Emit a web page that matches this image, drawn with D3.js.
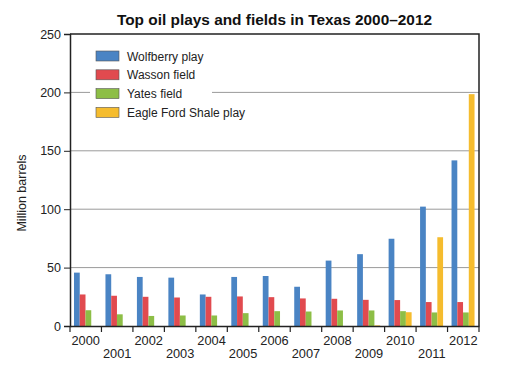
<!DOCTYPE html>
<html>
<head>
  <title>Texas oil</title>
  <script src="https://d3js.org/d3.v7.min.js"></script>
  <style>
    body { margin: 0; background: #fff; }
    text { font-family: "Liberation Sans", Arial, sans-serif; fill: #222; }
  </style>
</head>
<body>
<script type="text/javascript">
  var years = ["2000","2001","2002","2003","2004","2005","2006","2007","2008","2009","2010","2011","2012"];
  var seriesNames = ["Wolfberry play", "Wasson field", "Yates field", "Eagle Ford Shale play"];
  var wolfberry = [45.7, 44.3, 42, 41.4, 27, 42, 42.8, 33.6, 56, 61.5, 74.7, 102.2, 141.8];
  var wasson    = [27, 25.9, 25, 24.4, 25, 25.3, 24.7, 23.6, 23.3, 22.4, 22.2, 20.5, 20.5];
  var yates     = [13.5, 10, 8.6, 9, 9, 11, 12.7, 12.4, 13.3, 13.3, 12.7, 11.6, 11.6];
  var eagleFord = [null, null, null, null, null, null, null, null, null, 0.5, 11.8, 76, 198.5];
  var yTicks = [0, 50, 100, 150, 200, 250];
  var colors = ["#4a84c4", "#e14a4f", "#8dbe46", "#f5bc2e"];

  var w = 514;
  var h = 374;
  var mLeft = 70, mRight = 479, mTop = 34, mBottom = 326;

  var svg = d3.select("body").append("svg")
    .attr("width", w)
    .attr("height", h);

  var allSeries = [wolfberry, wasson, yates, eagleFord];
  var rows = [];
  allSeries.forEach(function(vals, s){
    vals.forEach(function(v, i){
      if (v !== null) rows.push({year: years[i], series: seriesNames[s], value: v, s: s});
    });
  });

  var x0 = d3.scaleBand().domain(years).range([mLeft, mRight]).padding(0);
  var x1 = d3.scaleBand().domain(seriesNames).range([4, 27]);
  var y = d3.scaleLinear().domain([0, 250]).range([mBottom, mTop]);

  // gridlines
  svg.append("g").selectAll("line")
    .data(yTicks.filter(function(t){ return t > 0 && t < 250; }))
    .enter().append("line")
    .attr("x1", mLeft).attr("x2", mRight)
    .attr("y1", function(d){ return y(d); })
    .attr("y2", function(d){ return y(d); })
    .attr("stroke", "#9a9a9a")
    .attr("stroke-width", 1);

  // bars
  svg.append("g").selectAll("rect")
    .data(rows)
    .enter().append("rect")
    .attr("x", function(d){ return x0(d.year) + x1(d.series); })
    .attr("width", x1.bandwidth())
    .attr("y", function(d){ return y(d.value); })
    .attr("height", function(d){ return mBottom - y(d.value); })
    .attr("fill", function(d){ return colors[d.s]; });

  // frame
  svg.append("path")
    .attr("d", "M" + mLeft + "," + mTop + "H" + mRight + "V" + mBottom)
    .attr("fill", "none")
    .attr("stroke", "#222")
    .attr("stroke-width", 1.5);

  // y axis
  var yAxis = svg.append("g")
    .attr("transform", "translate(" + mLeft + ",0)")
    .call(d3.axisLeft(y).tickValues(yTicks).tickSize(6).tickPadding(3));
  yAxis.select(".domain").attr("stroke", "#222").attr("stroke-width", 1.5);
  yAxis.selectAll("line").attr("stroke", "#222");
  yAxis.selectAll("text").attr("font-size", 12.5).style("fill", "#222");

  // x axis
  var xAxis = svg.append("g")
    .attr("transform", "translate(0," + mBottom + ")")
    .call(d3.axisBottom(x0).tickSize(0).tickPadding(8));
  xAxis.select(".domain").attr("stroke", "#222").attr("stroke-width", 1.5);
  xAxis.selectAll("text")
    .attr("font-size", 12.8)
    .style("fill", "#222")
    .attr("dy", function(d, i){ return i % 2 ? "1.85em" : "0.85em"; });

  var bounds = years.map(function(d){ return x0(d); }).concat([x0.range()[1]]);
  svg.append("g").selectAll("line")
    .data(bounds)
    .enter().append("line")
    .attr("x1", function(d){ return d; }).attr("x2", function(d){ return d; })
    .attr("y1", mBottom).attr("y2", mBottom + 6)
    .attr("stroke", "#222")
    .attr("stroke-width", 1.2);

  // title
  svg.append("text")
    .attr("x", (mLeft + mRight) / 2)
    .attr("y", 25)
    .attr("text-anchor", "middle")
    .attr("font-size", 15.4)
    .attr("font-weight", "bold")
    .style("fill", "#111")
    .text("Top oil plays and fields in Texas 2000\u20132012");

  // y label
  svg.append("text")
    .attr("transform", "translate(26,193) rotate(-90)")
    .attr("text-anchor", "middle")
    .attr("font-size", 12.5)
    .text("Million barrels");

  // legend
  var legend = svg.append("g");
  legend.append("rect")
    .attr("x", 90).attr("y", 44)
    .attr("width", 122).attr("height", 78)
    .attr("fill", "#fff");
  var items = legend.selectAll("g.item")
    .data(seriesNames)
    .enter().append("g")
    .attr("transform", function(d, i){ return "translate(96," + (51 + i * 18.8) + ")"; });
  items.append("rect")
    .attr("width", 23).attr("height", 10)
    .attr("fill", function(d, i){ return colors[i]; })
    .attr("stroke", "#555")
    .attr("stroke-width", 0.6);
  items.append("text")
    .attr("x", 31).attr("y", 9.5)
    .attr("font-size", 12)
    .text(function(d){ return d; });
</script>
</body>
</html>
